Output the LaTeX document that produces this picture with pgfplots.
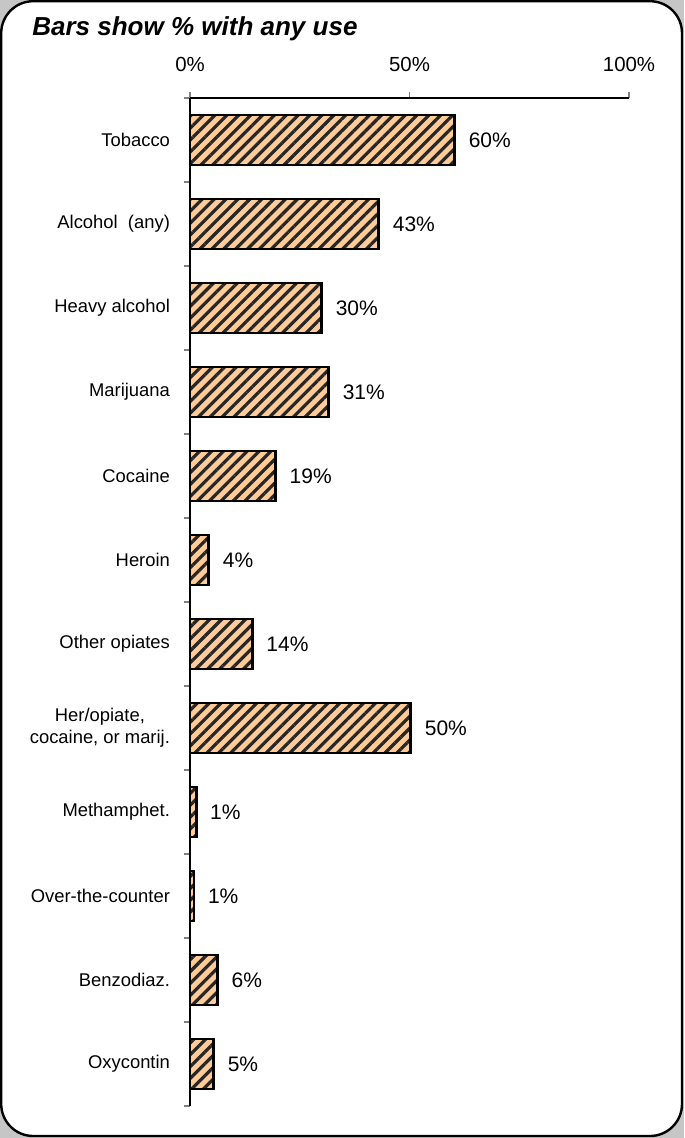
\documentclass[border=0pt]{standalone}
\usepackage{pgfplots}
\pgfplotsset{compat=1.18}
\usepackage{fontspec}
\setmainfont{Liberation Sans}
\usetikzlibrary{patterns.meta}
\definecolor{peach}{HTML}{FFCC99}
\definecolor{hatch}{HTML}{262626}
\pgfplotstableread{
x y m
60.3 0 60
43.0 1 43
30.0 2 30
31.6 3 31
19.5 4 19
4.3 5 4
14.2 6 14
50.3 7 50
1.4 8 1
0.9 9 1
6.3 10 6
5.4 11 5
}\datatable
\begin{document}
\begin{tikzpicture}
\fill[gray!45] (0,0) rectangle (342pt,-569pt);
\draw[fill=white, line width=1.2pt, rounded corners=16pt] (0.6pt,-0.6pt) rectangle (341pt,-568pt);
\node[anchor=base west, inner sep=0pt, font=\fontsize{13}{15}\selectfont\bfseries\itshape] at (16pt,-18pt) {Bars show \% with any use};
\begin{axis}[
 at={(95pt,-49pt)}, anchor=north west,
 scale only axis, width=219.5pt, height=504pt,
 xmin=0, xmax=100, ymin=-0.5, ymax=11.5, y dir=reverse,
 axis x line*=top, axis y line*=left,
 /pgf/number format/assume math mode=true,
 xtick={0,50,100}, xticklabels={0\%,50\%,100\%},
 ytick={0,...,11},
 yticklabels={Tobacco,Alcohol\ \ (any),Heavy alcohol,Marijuana,Cocaine,Heroin,Other opiates,{Her/opiate,\\cocaine, or marij.},Methamphet.,Over-the-counter,Benzodiaz.,Oxycontin},
 minor ytick={-0.5,0.5,...,11.5},
 tick align=outside,
 major y tick style={draw=none},
 minor y tick style={gray, line width=0.6pt},
 x tick style={gray, line width=0.6pt},
 major tick length=3pt, minor tick length=3pt,
 yticklabel style={align=center, font=\fontsize{9.2}{10.8}\selectfont, xshift=-3.5pt},
 xticklabel style={font=\fontsize{10.2}{12}\selectfont, yshift=6.5pt},
 axis line style={line width=0.7pt},
]
\addplot[xbar, bar width=25pt, draw=black, line width=1.4pt,
  preaction={fill=peach},
  pattern={Lines[angle=45,distance=4.2pt,line width=1.6pt]}, pattern color=hatch,
  point meta=explicit,
  nodes near coords={\pgfmathprintnumber{\pgfplotspointmeta}\%},
  nodes near coords style={font=\fontsize{10.5}{12}\selectfont, anchor=west, xshift=3pt, text=black}
] table[x=x, y=y, meta=m] {\datatable};
\end{axis}
\end{tikzpicture}
\end{document}
